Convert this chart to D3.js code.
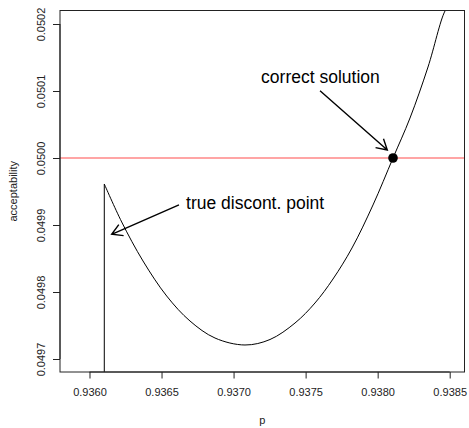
<!DOCTYPE html>
<html>
<head>
<meta charset="utf-8">
<script src="https://cdn.jsdelivr.net/npm/d3@7"></script>
<style>
  body { margin: 0; background: #fff; }
  svg text { font-family: "Liberation Sans", Arial, Helvetica, sans-serif; }
</style>
</head>
<body>
<script>
// curve (p, acceptability)
const curveP = [0.9361027, 0.9362235, 0.9363713, 0.9365358, 0.9366975, 0.9368711, 0.9370793, 0.9372528,
                0.9374263, 0.9375651, 0.9376900, 0.9378219, 0.9379677, 0.9381065, 0.9382245, 0.9383494,
                0.9384674, 0.9385021]
const curveV = [0.0499612, 0.0499045, 0.0498463, 0.0497940, 0.0497567, 0.0497313, 0.0497209, 0.0497291,
                0.0497537, 0.0497836, 0.0498194, 0.0498657, 0.0499299, 0.0500000, 0.0500597, 0.0501358,
                0.0502194, 0.0502284]

// vertical jump at the discontinuity
const discP = [0.9361027, 0.9361027]
const discV = [0.0496000, 0.0499612]

const targetLevel = 0.05
const solutionP = 0.9381065
const solutionV = 0.05

const xTicks = [0.9360, 0.9365, 0.9370, 0.9375, 0.9380, 0.9385]
const yTicks = [0.0497, 0.0498, 0.0499, 0.0500, 0.0501, 0.0502]

const labels = ['correct solution', 'true discont. point']
const labelP = [0.937603, 0.936670]
const labelV = [0.0501119, 0.0499239]
const arrowFromP = [0.937600, 0.936621]
const arrowFromV = [0.0501004, 0.0499299]
const arrowToP = [0.938067, 0.936154]
const arrowToV = [0.0500119, 0.0498861]

const size = { width: 469, height: 428 }
const plot = { left: 60, right: 464.5, top: 10.5, bottom: 372 }

const svg = d3.select('body')
    .append('svg')
    .attr('width', size.width)
    .attr('height', size.height)

const x = d3.scaleLinear()
    .domain([0.9357953, 0.9386027])
    .range([plot.left, plot.right])

const y = d3.scaleLinear()
    .domain([0.0496806, 0.05022015])
    .range([plot.bottom, plot.top])

svg.append('clipPath')
    .attr('id', 'clip')
    .append('rect')
    .attr('x', plot.left)
    .attr('y', plot.top)
    .attr('width', plot.right - plot.left)
    .attr('height', plot.bottom - plot.top)

const inner = svg.append('g').attr('clip-path', 'url(#clip)')

// red target line
inner.append('line')
    .attr('x1', plot.left)
    .attr('x2', plot.right)
    .attr('y1', y(targetLevel))
    .attr('y2', y(targetLevel))
    .attr('stroke', '#ff4d4d')
    .attr('stroke-width', 1.2)

const line = d3.line()
    .x(d => x(d[0]))
    .y(d => y(d[1]))

inner.append('path')
    .datum(curveP.map((p, i) => [p, curveV[i]]))
    .attr('d', line.curve(d3.curveCatmullRom.alpha(0.5)))
    .attr('fill', 'none')
    .attr('stroke', '#000')
    .attr('stroke-width', 1)

inner.append('path')
    .datum(discP.map((p, i) => [p, discV[i]]))
    .attr('d', d3.line().x(d => x(d[0])).y(d => y(d[1])))
    .attr('fill', 'none')
    .attr('stroke', '#000')
    .attr('stroke-width', 1)

inner.append('circle')
    .attr('cx', x(solutionP))
    .attr('cy', y(solutionV))
    .attr('r', 4.8)
    .attr('fill', '#000')

// box
svg.append('rect')
    .attr('x', plot.left)
    .attr('y', plot.top)
    .attr('width', plot.right - plot.left)
    .attr('height', plot.bottom - plot.top)
    .attr('fill', 'none')
    .attr('stroke', '#222')
    .attr('stroke-width', 1)

// axes
const xAxis = d3.axisBottom(x)
    .tickValues(xTicks)
    .tickSize(6.5)
    .tickPadding(10)
    .tickFormat(d3.format('.4f'))

const gx = svg.append('g')
    .attr('transform', `translate(0,${plot.bottom})`)
    .call(xAxis)
gx.select('.domain').attr('d', `M${x(xTicks[0])},0H${x(xTicks[xTicks.length - 1])}`)
gx.selectAll('text').attr('font-size', 11).attr('fill', '#222').attr('font-family', null)

const yAxis = d3.axisLeft(y)
    .tickValues(yTicks)
    .tickSize(7)
    .tickFormat(d3.format('.4f'))

const gy = svg.append('g')
    .attr('transform', `translate(${plot.left},0)`)
    .call(yAxis)
gy.select('.domain').attr('d', `M0,${y(yTicks[0])}V${y(yTicks[yTicks.length - 1])}`)
gy.selectAll('text')
    .attr('font-size', 11)
    .attr('fill', '#222')
    .attr('font-family', null)
    .attr('x', null)
    .attr('dy', null)
    .attr('text-anchor', 'middle')
    .attr('transform', 'translate(-15,0) rotate(-90)')

svg.selectAll('.domain, .tick line').attr('stroke', '#222')

svg.append('text')
    .attr('x', (plot.left + plot.right) / 2)
    .attr('y', 424)
    .attr('text-anchor', 'middle')
    .attr('font-size', 11)
    .attr('fill', '#222')
    .text('p')

svg.append('text')
    .attr('transform', `translate(17,${(plot.top + plot.bottom) / 2}) rotate(-90)`)
    .attr('text-anchor', 'middle')
    .attr('font-size', 11)
    .attr('fill', '#222')
    .text('acceptability')

// annotations with open arrow heads
const arrowHead = (x0, y0, x1, y1) => {
    const a = Math.atan2(y1 - y0, x1 - x0)
    const len = 12, spread = Math.PI / 6
    return `M${x1 - len * Math.cos(a - spread)},${y1 - len * Math.sin(a - spread)}L${x1},${y1}` +
           `L${x1 - len * Math.cos(a + spread)},${y1 - len * Math.sin(a + spread)}`
}

labels.forEach((t, i) => {
    const x0 = x(arrowFromP[i]), y0 = y(arrowFromV[i])
    const x1 = x(arrowToP[i]), y1 = y(arrowToV[i])
    svg.append('path')
        .attr('d', `M${x0},${y0}L${x1},${y1}` + arrowHead(x0, y0, x1, y1))
        .attr('fill', 'none')
        .attr('stroke', '#000')
        .attr('stroke-width', 1.4)
    svg.append('text')
        .attr('x', x(labelP[i]))
        .attr('y', y(labelV[i]))
        .attr('text-anchor', i === 0 ? 'middle' : 'start')
        .attr('font-size', 17.5)
        .attr('fill', '#000')
        .text(t)
})
</script>
</body>
</html>
